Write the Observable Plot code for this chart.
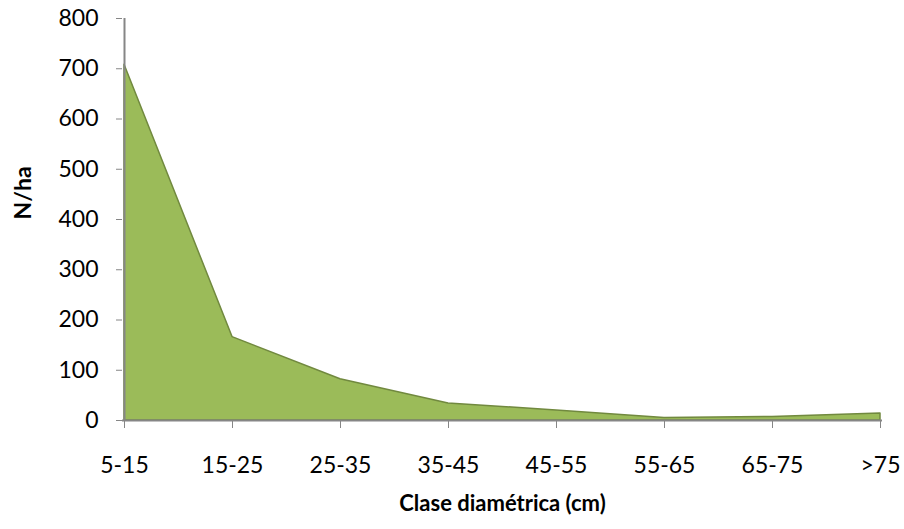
<!DOCTYPE html>
<html><head><meta charset="utf-8">
<script src="https://cdn.jsdelivr.net/npm/d3@7"></script>
<script src="https://cdn.jsdelivr.net/npm/@observablehq/plot@0.6"></script>
<style>
html,body{margin:0;padding:0;background:#fff;}
</style>
</head><body>
<div id="chart"></div>
<script>
const clases = ["5-15","15-25","25-35","35-45","45-55","55-65","65-75",">75"];
const nha = [708, 166, 82, 34, 20, 5, 7, 14];
const yTicks = [0,100,200,300,400,500,600,700,800];
const xTitle = "Clase diamétrica (cm)";
const yTitle = "N/ha";

const data = clases.map((c,i)=>({clase:c, n:nha[i]}));
const axisColor = "#868686";
const font = "Lato, 'Open Sans', sans-serif";

const chart = Plot.plot({
  width: 904, height: 529,
  marginLeft: 122, marginRight: 22, marginTop: 18, marginBottom: 109,
  style: {fontFamily: font, fontSize: "23px", color: "#000", background: "#fff"},
  x: {type: "point", domain: clases, padding: 0},
  y: {domain: [0, 800]},
  marks: [
    Plot.areaY(data, {x: "clase", y: "n", fill: "#9BBB59", stroke: "#71893F", strokeWidth: 1.5}),
    Plot.ruleX([clases[0]], {stroke: axisColor, strokeWidth: 2}),
    Plot.ruleY([0], {stroke: axisColor, strokeWidth: 2}),
    Plot.axisY({ticks: yTicks, tickSize: 6, tickPadding: 18, stroke: axisColor, label: null, fill: "#000", fontSize: 23}),
    Plot.axisX({tickSize: 8, tickPadding: 28, stroke: axisColor, label: null, fill: "#000", fontSize: 23}),
    Plot.text([xTitle], {frameAnchor: "bottom", dy: 90, fontWeight: "bold", fontSize: 22, fill: "#000"}),
    Plot.text([yTitle], {frameAnchor: "left", dx: -99, rotate: -90, fontWeight: "bold", fontSize: 23, fill: "#000"})
  ]
});
document.getElementById("chart").appendChild(chart);
</script>
</body></html>
